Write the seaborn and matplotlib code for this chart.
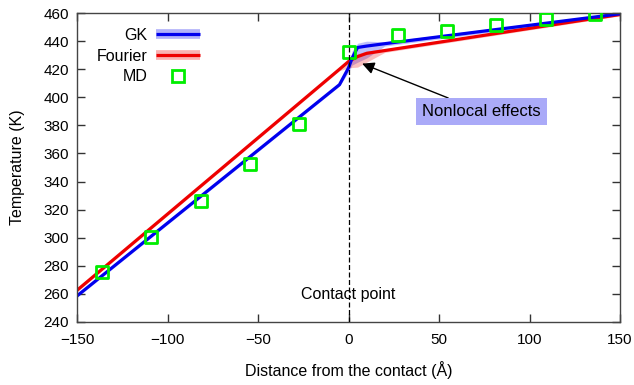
import numpy as np
import pandas as pd
import seaborn as sns
import matplotlib.pyplot as plt
from matplotlib.lines import Line2D

# GK (Green-Kubo) temperature profile with uncertainty band
gk_x = [-150, -5, 0, 2, 5, 10, 20, 150]
gk_T = [258.5, 409, 421, 428, 435.5, 436.5, 438.2, 459.5]
gk_lo = [257.5, 408, 418, 423, 425, 428, 436.5, 458.5]
gk_hi = [259.5, 410, 423, 433, 438.5, 440, 439.5, 460.5]

# Fourier prediction with uncertainty band
fo_x = [-150, -5, 0, 5, 10, 20, 150]
fo_T = [262.5, 420, 425.5, 429, 431.3, 433.3, 459]
fo_lo = [261.5, 419, 421, 421.5, 425, 432, 458]
fo_hi = [263.5, 421, 427, 431, 433, 434.5, 460]

# MD data points
md_x = [-136.2, -108.9, -81.7, -54.4, -27.2, 0, 27.2, 54.4, 81.7, 108.9, 136.2]
md_T = [275.6, 300.5, 326.1, 352.5, 381, 432.2, 444.3, 447.2, 451.5, 455.7, 459.3]

plt.rcParams['font.family'] = ['Liberation Sans', 'DejaVu Sans']
plt.rcParams['font.size'] = 11

blue = '#0000ee'
red = '#ee0000'
green = '#00ee00'

fig = plt.figure(figsize=(6.34, 3.85), dpi=100)
ax = fig.add_axes([0.1215, 0.164, 0.8565, 0.802])

ax.fill_between(gk_x, gk_lo, gk_hi, color=blue, alpha=0.25, lw=0)
ax.fill_between(fo_x, fo_lo, fo_hi, color=red, alpha=0.25, lw=0)

gk = pd.DataFrame({'x': gk_x, 'T': gk_T})
fo = pd.DataFrame({'x': fo_x, 'T': fo_T})
md = pd.DataFrame({'x': md_x, 'T': md_T})
sns.lineplot(data=fo, x='x', y='T', color=red, lw=2.3, ax=ax, sort=False)
sns.lineplot(data=gk, x='x', y='T', color=blue, lw=2.3, ax=ax, sort=False)

sns.scatterplot(data=md, x='x', y='T', marker='s', s=75, facecolors='none',
                edgecolor=green, linewidth=2, ax=ax, zorder=5)

ax.text(0, 259.5, 'Contact point', ha='center', va='center', fontsize=11.5)
ax.axvline(0, color='black', lw=0.9, ls=(0, (4, 2)), zorder=6)

ax.annotate('Nonlocal effects', xy=(7.5, 424), xytext=(73.5, 390),
            ha='center', va='center', fontsize=12,
            bbox=dict(boxstyle='square,pad=0.35', facecolor='#aaaaf8', edgecolor='none'),
            arrowprops=dict(arrowstyle='-|>', color='black', lw=1, mutation_scale=18,
                            shrinkA=0, shrinkB=0))

ax.set_xlim(-150, 150)
ax.set_ylim(240, 460)
ax.set_xticks(range(-150, 151, 50))
ax.set_yticks(range(240, 461, 20))
ax.tick_params(direction='in', length=6, width=1, color='#333333', labelsize=11,
               top=True, right=True, bottom=True, left=True, zorder=10)
ax.tick_params(axis='x', pad=8)
ax.tick_params(axis='y', pad=6)
for s in ax.spines.values():
    s.set_color('#444444')
    s.set_linewidth(1)
ax.set_xlabel('Distance from the contact (Å)', fontsize=11.5, labelpad=10)
ax.set_ylabel('Temperature (K)', fontsize=11.5, labelpad=13)

handles = [
    (Line2D([], [], color=blue, lw=7, alpha=0.3, solid_capstyle='butt'),
     Line2D([], [], color=blue, lw=2.3, solid_capstyle='butt')),
    (Line2D([], [], color=red, lw=7, alpha=0.3, solid_capstyle='butt'),
     Line2D([], [], color=red, lw=2.3, solid_capstyle='butt')),
    Line2D([], [], ls='none', marker='s', ms=8.5, mfc='none', mec=green, mew=2),
]
ax.legend(handles, ['GK', 'Fourier', 'MD'], loc='upper left', bbox_to_anchor=(0.01, 0.998),
          frameon=False, markerfirst=False, handlelength=2.8, labelspacing=0.35,
          handletextpad=0.5, fontsize=11.5)

fig.savefig('out.png', dpi=100)
